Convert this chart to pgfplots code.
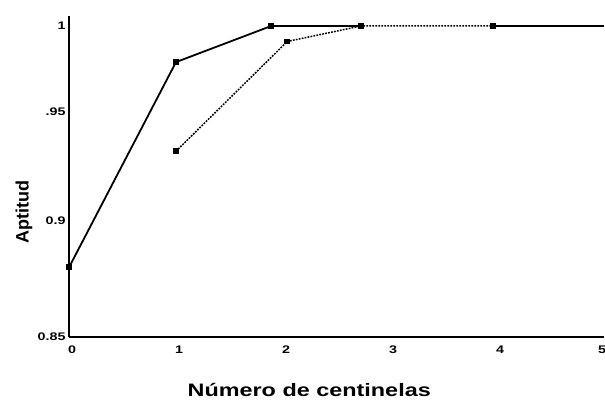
\documentclass[border=0pt]{standalone}
\usepackage{graphicx}
\usepackage{pgfplots}
\pgfplotsset{compat=1.18}
\usepackage{fontspec}
\setmainfont{Liberation Sans}
\newcommand\sx[1]{\scalebox{1.3}[1]{#1}}
\begin{document}
\begin{tikzpicture}
\useasboundingbox (-69pt,-62pt) rectangle (536pt,337pt);
\begin{axis}[
  at={(0pt,0pt)}, anchor=south west,
  scale only axis, width=535pt, height=321pt,
  xmin=0, xmax=5, ymin=0.85, ymax=1.0058,
  y coord trafo/.code={\pgfmathparse{(#1<0.9)?((#1-0.85)*2320):((#1<0.95)?(116+(#1-0.9)*2180):(225+(#1-0.95)*1720))}},
  axis lines=left,
  axis line style={-, line width=2pt},
  major tick length=0pt,
  xtick={0,1,2,3,4,5},
  xticklabels={\sx{0},\sx{1},\sx{2},\sx{3},\sx{4},\sx{5}\kern10pt},
  ytick={0.85,0.9,0.95,1},
  yticklabels={\sx{0.85},\sx{0.9},\sx{.95},\sx{1}},
  ticklabel style={font=\fontsize{11}{13}\selectfont\bfseries},
  xticklabel style={yshift=-5pt, xshift=3pt},
  xlabel={\sx{Número de centinelas}},
  ylabel={Aptitud},
  label style={font=\fontsize{18}{21}\selectfont\bfseries},
  xlabel style={at={(axis description cs:0.449,-0.184)}, anchor=base, inner sep=0pt},
  ylabel style={at={(axis description cs:-0.084,0.39)}, anchor=center},
  clip=false,
]
\addplot[black, line width=1.8pt, mark=square*, mark size=2.2pt]
  coordinates {(0,0.880) (1,0.979) (1.89,1.0) (2.73,1.0)};
\addplot[black, line width=1.8pt]
  coordinates {(3.96,1.0) (5,1.0)};
\addplot[black, line width=1.5pt, dash pattern=on 1.8pt off 1.2pt,
  mark=square*, mark size=2.2pt, mark options={solid}]
  coordinates {(1,0.932) (2.04,0.991) (2.73,1.0) (3.96,1.0)};
\end{axis}
\end{tikzpicture}
\end{document}
